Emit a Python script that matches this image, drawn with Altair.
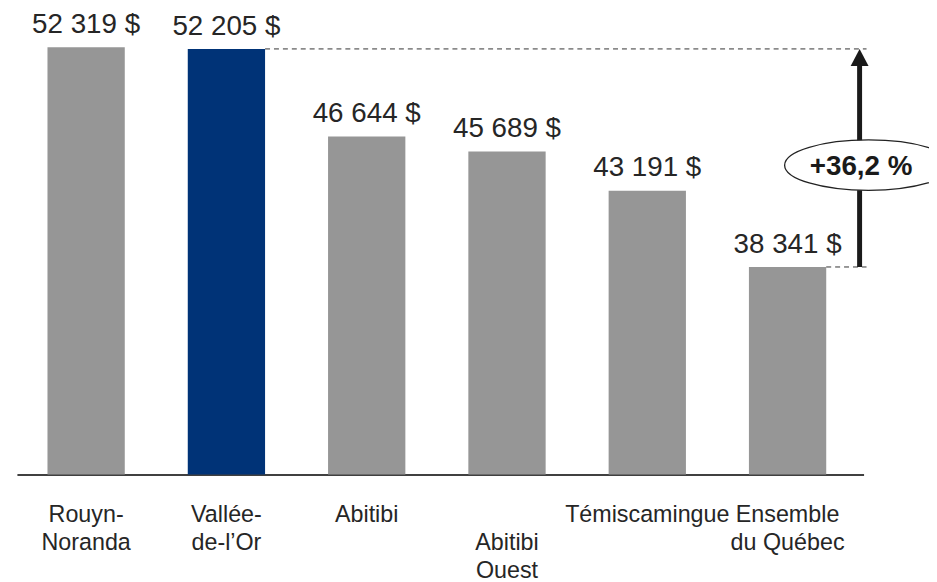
import altair as alt
import pandas as pd

# ---- data ----
regions = ["Rouyn-Noranda", "Vallée-de-l’Or", "Abitibi", "Abitibi Ouest",
           "Témiscamingue", "Ensemble du Québec"]
incomes = [52319, 52205, 46644, 45689, 43191, 38341]
value_labels = ["52 319 $", "52 205 $", "46 644 $", "45 689 $", "43 191 $", "38 341 $"]
axis_labels = [["Rouyn-", "Noranda"], ["Vallée-", "de-l’Or"], ["Abitibi"],
               ["Abitibi", "Ouest"], ["Témiscamingue"], ["Ensemble", "du Québec"]]
highlight = "Vallée-de-l’Or"
staggered = "Abitibi Ouest"
gap_from = "Ensemble du Québec"
gap_to = "Vallée-de-l’Or"
gap_label = "+36,2 %"

df = pd.DataFrame({"region": regions, "income": incomes,
                   "vlabel": value_labels, "xlabel": axis_labels})
ref = df[df["region"].isin([gap_from, gap_to])][["region", "income"]]
gap = pd.DataFrame({
    "low": [incomes[regions.index(gap_from)]],
    "high": [incomes[regions.index(gap_to)]],
    "label": [gap_label],
})

FONT = "Liberation Sans"
TXT = "#262626"
SYM = 1.2732  # vega symbol size correction (custom paths)

x_enc = alt.X("region:N", sort=regions,
              scale=alt.Scale(paddingInner=0.449, paddingOuter=0.242, align=0.45),
              axis=alt.Axis(labels=False, ticks=False, title=None, grid=False,
                            domainColor="#404040", domainWidth=2))
y_scale = alt.Scale(domain=[25150, 54650], nice=False, zero=False)

base = alt.Chart(df)

bars = base.mark_bar(clip=True).encode(
    x=x_enc,
    y=alt.Y("income:Q", scale=y_scale, axis=None),
    color=alt.condition(alt.datum.region == highlight,
                        alt.value("#003377"), alt.value("#969696")),
)

values = base.mark_text(font=FONT, fontSize=28, color=TXT, dy=-14.5,
                        baseline="alphabetic", align="center").encode(
    x=x_enc, y=alt.Y("income:Q", scale=y_scale), text="vlabel:N")

cats = base.mark_text(font=FONT, fontSize=23.5, color=TXT, lineHeight=28,
                      baseline="alphabetic", align="center").encode(
    x=x_enc, y=alt.value(516), text="xlabel"
).transform_filter(alt.datum.region != staggered)

cats2 = base.mark_text(font=FONT, fontSize=23.5, color=TXT, lineHeight=28,
                       baseline="alphabetic", align="center").encode(
    x=x_enc, y=alt.value(544.5), text="xlabel"
).transform_filter(alt.datum.region == staggered)

dashed = alt.Chart(ref).mark_rule(strokeDash=[5, 4], color="#333333", strokeWidth=1).encode(
    x=alt.X("region:N", sort=regions, bandPosition=1),
    x2=alt.value(857),
    y=alt.Y("income:Q", scale=y_scale),
)

shaft = alt.Chart(gap).mark_rule(strokeWidth=5, color="#1a1a1a", y2Offset=12).encode(
    x=alt.value(850), y=alt.Y("low:Q", scale=y_scale), y2="high:Q")

head = alt.Chart(gap).mark_point(shape="M0,0 L1,1.9 L-1,1.9 Z", size=256 * SYM, filled=True,
                                 color="#1a1a1a", opacity=1).encode(
    x=alt.value(850), y=alt.Y("high:Q", scale=y_scale))

k = 0.5523
ry = 0.30
ell_path = (f"M-1,0 C-1,{-k*ry:.4f} {-k:.4f},{-ry} 0,{-ry} "
            f"C{k:.4f},{-ry} 1,{-k*ry:.4f} 1,0 "
            f"C1,{k*ry:.4f} {k:.4f},{ry} 0,{ry} "
            f"C{-k:.4f},{ry} -1,{k*ry:.4f} -1,0 Z")
ellipse = alt.Chart(gap).mark_point(shape=ell_path, size=150 * 150 * SYM, filled=True,
                                    fill="white", stroke="#222222", strokeWidth=1.3,
                                    opacity=1).encode(
    x=alt.value(859), y=alt.value(156))

gap_text = alt.Chart(gap).mark_text(font=FONT, fontSize=28, fontWeight="bold",
                                    color="#1a1a1a", baseline="alphabetic",
                                    align="center").encode(
    x=alt.value(851.5), y=alt.value(166), text="label:N")

chart = alt.layer(bars, values, cats, cats2, dashed, shaft, head, ellipse, gap_text).properties(
    width=854, height=468,
    padding={"left": 9, "top": 0, "right": 66, "bottom": 106},
    autosize=alt.AutoSizeParams(type="none"),
    background="white",
).configure_view(stroke=None)

chart.save("out.html", embed_options={"renderer": "svg", "actions": False})
